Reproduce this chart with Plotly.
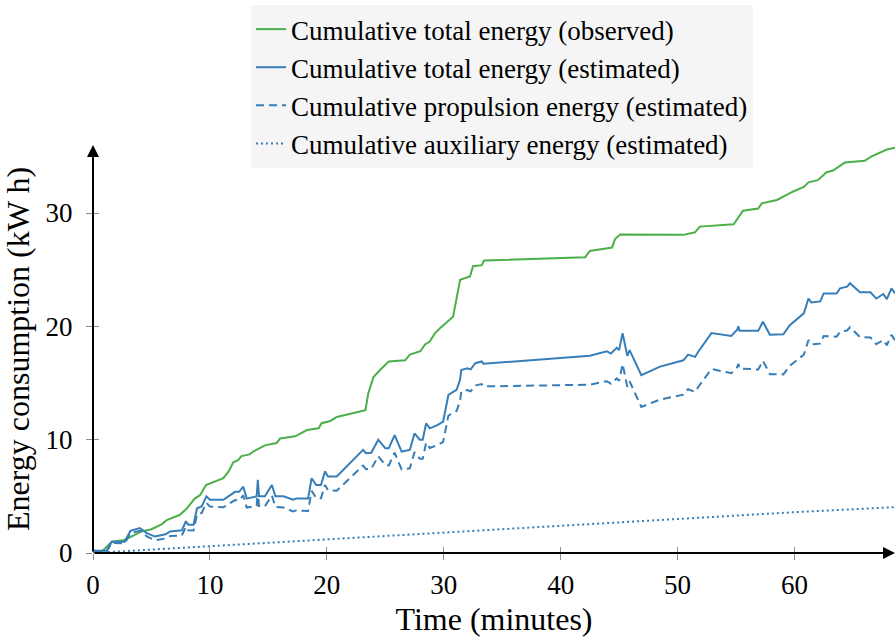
import plotly.graph_objects as go

# Observed cumulative total energy (kWh) vs. time (minutes)
t_obs = [0, 0.6, 1.03, 1.6, 2.7, 3.3, 4.15, 5.0, 5.9, 6.3, 7.4, 8.0, 8.7, 9.15, 9.67,
         11.15, 11.6, 12.0, 12.4, 12.7, 13.4, 13.7, 14.7, 15.7, 16.0, 17.3, 17.7, 18.3,
         19.3, 19.55, 20.3, 20.85, 23.3, 23.55, 23.98, 24.55, 25.3, 26.7, 27.1, 28.0,
         28.4, 28.8, 29.26, 29.7, 30.8, 31.4, 32.25, 32.5, 33.25, 33.45, 42.1, 42.5,
         44.4, 44.65, 45.1, 50.5, 51.5, 51.9, 54.8, 55.1, 55.6, 56.9, 57.2, 58.5, 59.9,
         60.8, 61.2, 62.0, 62.75, 63.3, 64.3, 66.0, 66.6, 67.9, 68.6]
e_obs = [0, 0.05, 0.4, 1.0, 1.15, 1.45, 1.9, 2.1, 2.55, 2.9, 3.35, 3.9, 4.8, 5.1, 6.0,
         6.6, 7.2, 8.0, 8.2, 8.55, 8.7, 8.95, 9.5, 9.7, 10.1, 10.3, 10.5, 10.85,
         11.0, 11.45, 11.65, 12.0, 12.6, 14.1, 15.5, 16.15, 16.9, 17.0, 17.5, 17.8,
         18.4, 18.65, 19.4, 19.85, 20.85, 24.1, 24.4, 25.3, 25.4, 25.8, 26.1, 26.65,
         26.95, 27.7, 28.1, 28.07, 28.3, 28.8, 29.0, 29.45, 30.2, 30.4, 30.85, 31.15, 31.9,
         32.3, 32.7, 32.9, 33.6, 33.75, 34.45, 34.6, 35.0, 35.6, 35.75]

# Estimated series share one time base
t_est = [0, 1.17, 1.6, 2.7, 3.2, 4.0, 4.6, 5.3, 6.2, 6.6, 7.6, 7.95, 8.15, 8.6, 8.9,
         9.3, 9.7, 10.0, 11.15, 12.15, 12.5, 12.85, 13.15, 14.0, 14.1, 14.2, 14.7, 15.3,
         15.6, 16.3, 17.1, 17.4, 18.4, 18.7, 19.1, 19.5, 19.85, 20.1, 20.85, 23.1, 23.35,
         23.8, 24.4, 24.55, 25.0, 25.3, 25.8, 26.4, 27.1, 27.5, 27.95, 28.2, 28.5, 28.8,
         29.5, 29.95, 30.4, 31.1, 31.4, 31.5, 32.0, 32.3, 32.7, 33.25, 33.4, 42.5, 43.95,
         44.3, 44.8, 45.0, 45.3, 45.7, 45.9, 46.9, 48.5, 50.5, 50.9, 51.5, 51.8, 52.9,
         54.6, 55.1, 55.2, 55.3, 56.9, 57.3, 57.9, 59.05, 59.6, 60.8, 61.2, 61.45, 62.2,
         62.5, 63.6, 63.9, 64.5, 64.75, 65.6, 66.5, 67.0, 67.6, 67.9, 68.3, 68.6]
e_total = [0.2, 0.2, 1.0, 1.0, 1.95, 2.2, 1.75, 1.45, 1.65, 1.9, 2.0, 2.8, 2.5, 2.5, 3.95,
           4.1, 5.0, 4.7, 4.7, 5.4, 5.4, 5.85, 4.8, 5.0, 6.45, 5.0, 5.0, 6.0,
           5.0, 5.0, 4.7, 4.8, 4.8, 6.6, 6.0, 6.0, 7.2, 6.75, 6.75, 9.1, 8.8,
           8.85, 10.0, 9.8, 9.25, 9.25, 10.4, 8.95, 9.1, 10.55, 10.0, 10.0, 11.45, 11.0,
           11.3, 11.6, 13.95, 14.4, 15.3, 16.15, 16.3, 16.2, 16.75, 16.9, 16.7, 17.4, 17.8,
           17.6, 18.1, 17.9, 19.4, 17.4, 17.9, 15.7, 16.45, 17.0, 17.5, 17.3, 17.8, 19.4,
           19.15, 19.7, 20.0, 19.6, 19.6, 20.4, 19.25, 19.3, 20.1, 21.15, 22.45, 22.1, 22.2,
           22.9, 22.9, 23.35, 23.5, 23.8, 23.0, 23.0, 22.45, 22.85, 22.4, 23.35, 22.9]
e_prop = [0.2, 0.13, 0.9, 0.84, 1.76, 1.96, 1.47, 1.13, 1.28, 1.5, 1.54, 2.32, 2.01, 1.98, 3.42,
          3.54, 4.42, 4.1, 4.03, 4.67, 4.65, 5.08, 4.01, 4.16, 5.6, 4.15, 4.12, 5.08,
          4.06, 4.02, 3.67, 3.76, 3.7, 5.48, 4.85, 4.83, 6.01, 5.54, 5.5, 7.71, 7.4,
          7.42, 8.54, 8.33, 7.75, 7.73, 8.85, 7.37, 7.47, 8.9, 8.32, 8.31, 9.74, 9.27,
          9.53, 9.8, 12.13, 12.53, 13.42, 14.26, 14.38, 14.26, 14.79, 14.9, 14.7, 14.85, 15.16,
          14.94, 15.41, 15.2, 16.68, 14.66, 15.15, 12.89, 13.54, 13.97, 14.45, 14.21, 14.69, 16.23,
          15.87, 16.39, 16.69, 16.28, 16.19, 16.96, 15.78, 15.76, 16.52, 17.5, 18.78, 18.41, 18.47,
          19.15, 19.08, 19.52, 19.63, 19.92, 19.06, 19.01, 18.43, 18.79, 18.33, 19.25, 18.78]

t_aux = [0, 10, 20, 30, 40, 50, 60, 68.6]
e_aux = [0, 0.6, 1.2, 1.8, 2.45, 3.05, 3.6, 4.05]

x_ticks = [0, 10, 20, 30, 40, 50, 60]
y_ticks = [0, 10, 20, 30]
x_max, y_max = 68.6, 36

GREEN = "#4daf4a"
BLUE = "#377eb8"
FONT = "Liberation Serif"
TICK_GREY = "#8c8c8c"

fig = go.Figure()
fig.add_trace(go.Scatter(x=t_obs, y=e_obs, mode="lines", name="Cumulative total energy (observed)",
                         legendgroup="a", line=dict(color=GREEN, width=2)))
fig.add_trace(go.Scatter(x=t_est, y=e_total, mode="lines", name="Cumulative total energy (estimated)",
                         legendgroup="b", line=dict(color=BLUE, width=2)))
fig.add_trace(go.Scatter(x=t_est, y=e_prop, mode="lines", name="Cumulative propulsion energy (estimated)",
                         legendgroup="c", line=dict(color=BLUE, width=2, dash="8px,5px")))
fig.add_trace(go.Scatter(x=t_aux, y=e_aux, mode="lines", name="Cumulative auxiliary energy (estimated)",
                         legendgroup="d", line=dict(color=BLUE, width=2, dash="2px,3px")))
# empty trace that brings up the overlay axes carrying the inner half of each tick
fig.add_trace(go.Scatter(x=[None], y=[None], xaxis="x2", yaxis="y2", mode="lines",
                         showlegend=False, hoverinfo="skip"))

# axis lines drawn as arrows
fig.add_annotation(x=x_max, y=0, ax=0, ay=0, xref="x", yref="y", axref="x", ayref="y",
                   showarrow=True, arrowhead=2, arrowsize=1.2, arrowwidth=2, arrowcolor="black", text="")
fig.add_annotation(x=0, y=y_max, ax=0, ay=0, xref="x", yref="y", axref="x", ayref="y",
                   showarrow=True, arrowhead=2, arrowsize=1.2, arrowwidth=2, arrowcolor="black", text="")

tick_style = dict(showgrid=False, zeroline=False, showline=False,
                  tickcolor=TICK_GREY, tickwidth=1, ticklen=6)

fig.update_layout(
    width=895, height=643,
    margin=dict(l=93, r=0, t=145, b=90),
    paper_bgcolor="white", plot_bgcolor="white",
    font=dict(family=FONT, size=27, color="black"),
    showlegend=True,
    legend=dict(x=0.197, y=1.343, xanchor="left", yanchor="top",
                bgcolor="#f5f5f5", borderwidth=0, tracegroupgap=0,
                font=dict(family=FONT, size=27)),
    xaxis=dict(range=[0, x_max], tickvals=x_ticks, ticks="outside", ticklabelstandoff=2,
               title=dict(text="Time (minutes)", standoff=8), **tick_style),
    yaxis=dict(range=[0, y_max], tickvals=y_ticks, ticks="outside", ticklabelstandoff=8,
               title=dict(text="Energy consumption (kW h)", standoff=6), **tick_style),
    xaxis2=dict(range=[0, x_max], tickvals=x_ticks, ticks="inside", showticklabels=False,
                overlaying="x", anchor="y2", side="bottom", **tick_style),
    yaxis2=dict(range=[0, y_max], tickvals=y_ticks, ticks="inside", showticklabels=False,
                overlaying="y", anchor="x2", side="left", **tick_style),
)

fig.write_html("out.html")
